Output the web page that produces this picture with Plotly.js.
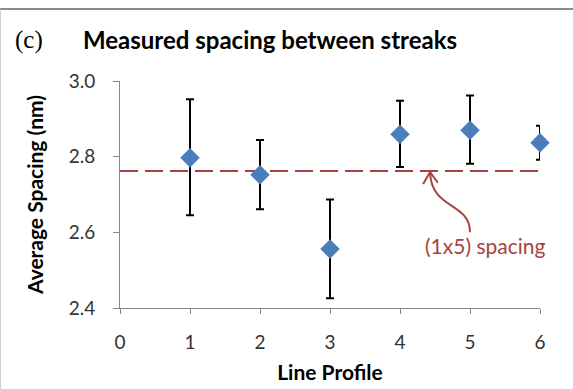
<!DOCTYPE html>
<html>
<head>
<meta charset="utf-8">
<script src="https://cdn.plot.ly/plotly-3.0.1.min.js"></script>
<style>
  html, body { margin: 0; padding: 0; background: #fff; }
  #wrap { position: relative; width: 573px; height: 389px; }
  #chart { width: 573px; height: 389px; }
  #frame { position: absolute; left: 0; top: 8px; width: 573px; height: 381px;
           border-top: 2px solid #8a8a8a; border-left: 1px solid #d0d0d0;
           box-sizing: border-box; pointer-events: none; }
</style>
</head>
<body>
<div id="wrap">
  <div id="chart"></div>
  <div id="frame"></div>
</div>
<script>
// Data
const lineProfile = [1, 2, 3, 4, 5, 6];
const avgSpacing  = [2.797, 2.752, 2.556, 2.859, 2.870, 2.837];
const errPlus     = [0.155, 0.092, 0.131, 0.089, 0.092, 0.045];
const errMinus    = [0.152, 0.091, 0.130, 0.086, 0.089, 0.045];
const refX = [0, 6];
const refY = [2.762, 2.762];
const refLabel = "(1x5) spacing";
const xTicks = [0, 1, 2, 3, 4, 5, 6];
const yTicks = [2.4, 2.6, 2.8, 3.0];

const font = "Lato, 'Open Sans', sans-serif";
const red = "#A6423F";

const traces = [
  {
    x: refX, y: refY, mode: "lines", type: "scatter",
    line: { color: red, width: 2, dash: "18px,7px" },
    hoverinfo: "skip", showlegend: false
  },
  {
    x: lineProfile, y: avgSpacing, mode: "markers", type: "scatter",
    marker: { symbol: "diamond", size: 15, color: "#4A7EBB" },
    error_y: { type: "data", symmetric: false, array: errPlus, arrayminus: errMinus,
               color: "#000", thickness: 2, width: 4 },
    cliponaxis: false,
    showlegend: false
  }
];

const layout = {
  width: 573, height: 389,
  margin: { l: 120, r: 33, t: 81, b: 81 },
  paper_bgcolor: "#fff", plot_bgcolor: "#fff",
  font: { family: font, color: "#222" },
  title: {
    text: "<b>Measured spacing between streaks</b>",
    font: { family: font, size: 24, color: "#000" },
    xref: "container", x: 270 / 573, xanchor: "center",
    yref: "container", y: 1 - 41 / 389, yanchor: "middle"
  },
  xaxis: {
    range: [0, 6], tickvals: xTicks, ticktext: xTicks.map(String),
    showgrid: false, zeroline: false,
    showline: true, linecolor: "#888", linewidth: 1,
    ticks: "outside", ticklen: 5, tickcolor: "#888",
    tickfont: { family: font, size: 19, color: "#333" },
    ticklabelstandoff: 12,
    title: { text: "<b>Line Profile</b>", font: { family: font, size: 21, color: "#000" }, standoff: 13 }
  },
  yaxis: {
    range: [2.4, 3.0], tickvals: yTicks, ticktext: yTicks.map(v => v.toFixed(1)),
    showgrid: false, zeroline: false,
    showline: true, linecolor: "#888", linewidth: 1,
    ticks: "outside", ticklen: 6, tickcolor: "#888",
    tickfont: { family: font, size: 19, color: "#333" },
    ticklabelstandoff: 14,
    title: { text: "<b>Average Spacing (nm)</b>", font: { family: font, size: 21, color: "#000" }, standoff: 19 }
  },
  annotations: [
    {
      text: "(c)", xref: "paper", yref: "paper",
      x: (13 - 120) / 420, y: (308 - 40) / 227, xanchor: "left", yanchor: "middle",
      showarrow: false, font: { family: "'Liberation Serif', serif", size: 25, color: "#000" }
    },
    {
      text: refLabel, xref: "x", yref: "y",
      x: 5.22, y: 2.566, xanchor: "center", yanchor: "middle",
      showarrow: false, font: { family: font, size: 21, color: red }
    }
  ],
  shapes: [
    {
      type: "path", xref: "x", yref: "y",
      path: "M 5.0,2.60 C 5.0,2.68 4.45,2.66 4.43,2.757",
      line: { color: red, width: 2 }
    },
    {
      type: "path", xref: "x", yref: "y",
      path: "M 4.33,2.728 L 4.43,2.759 L 4.54,2.731",
      line: { color: red, width: 2 }
    }
  ]
};

Plotly.newPlot("chart", traces, layout, { displayModeBar: false, staticPlot: true });
</script>
</body>
</html>
